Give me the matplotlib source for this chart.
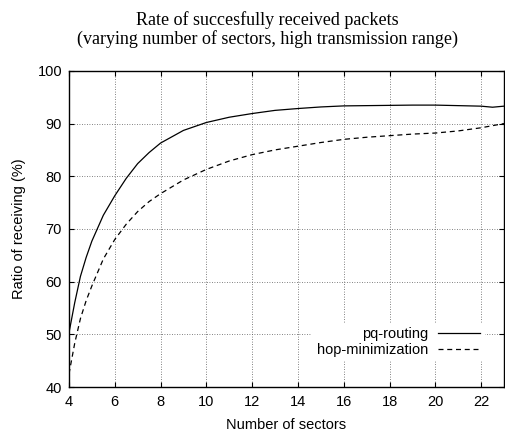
"""
Rate of successfully received packets vs. number of sectors (gnuplot-style recreation).
"""

import matplotlib
matplotlib.use("Agg")
import matplotlib.pyplot as plt

# ---- data -----------------------------------------------------------------
sectors_pq = [4, 4.25, 4.5, 4.75, 5, 5.5, 6, 6.5, 7, 7.5, 8, 9, 10, 11, 12, 13,
              14, 15, 16, 17, 18, 19, 20, 21, 22, 22.5, 23]
pq_routing = [50.3, 56.0, 61.0, 64.6, 67.7, 72.6, 76.3, 79.6, 82.4, 84.5, 86.3,
              88.7, 90.2, 91.2, 91.9, 92.5, 92.85, 93.15, 93.35, 93.4, 93.45,
              93.5, 93.5, 93.4, 93.3, 93.1, 93.3]

sectors_hop = [4, 4.25, 4.5, 4.75, 5, 5.5, 6, 6.5, 7, 7.5, 8, 9, 10, 11, 12, 13,
               14, 15, 16, 17, 18, 19, 20, 21, 22, 23]
hop_minimization = [42.5, 48.3, 53.0, 56.4, 59.2, 64.3, 68.0, 70.9, 73.3, 75.2,
                    76.7, 79.3, 81.3, 82.9, 84.1, 85.0, 85.7, 86.4, 87.0, 87.4,
                    87.7, 88.0, 88.2, 88.6, 89.2, 90.0]

x_ticks = [4, 6, 8, 10, 12, 14, 16, 18, 20, 22]
y_ticks = [40, 50, 60, 70, 80, 90, 100]

TITLE = "Rate of succesfully received packets\n(varying number of sectors, high transmission range)"

plt.rcParams.update({
    "font.family": ["Liberation Sans", "DejaVu Sans"],
    "font.size": 10.5,
    "xtick.direction": "in",
    "ytick.direction": "in",
    "xtick.top": True,
    "ytick.right": True,
    "xtick.major.size": 3.6,
    "ytick.major.size": 3.6,
    "xtick.major.width": 0.8,
    "ytick.major.width": 0.8,
})

fig = plt.figure(figsize=(5.05, 4.32), dpi=100)
ax = fig.add_axes([0.1366, 0.104, 0.8614, 0.732])

ax.plot(sectors_pq, pq_routing, color="black", lw=0.9, label="pq-routing")
ax.plot(sectors_hop, hop_minimization, color="black", lw=0.9,
        linestyle=(0, (4, 3)), label="hop-minimization")

ax.set_xlim(4, 23)
ax.set_ylim(40, 100)
ax.set_xticks(x_ticks)
ax.set_yticks(y_ticks)
ax.tick_params(axis="x", pad=6)
ax.tick_params(axis="y", pad=5)
ax.grid(True, color="0.35", linestyle=(0, (1, 2)), linewidth=0.6)
ax.set_axisbelow(True)
for sp in ax.spines.values():
    sp.set_linewidth(1.0)

ax.set_xlabel("Number of sectors", labelpad=6)
ax.set_ylabel("Ratio of receiving (%)", labelpad=8)

leg = ax.legend(loc="lower right", bbox_to_anchor=(0.956, 0.082),
                markerfirst=False, frameon=True, fancybox=False,
                handlelength=2.9, handletextpad=0.7, labelspacing=0.12,
                borderpad=0.3, borderaxespad=0)
leg.get_frame().set_facecolor("white")
leg.get_frame().set_edgecolor("none")
leg.get_frame().set_alpha(1)
for t in leg.get_texts():
    t.set_ha("right")

fig.text(0.529, 0.975, TITLE, ha="center", va="top", family="Liberation Serif",
         fontsize=13, linespacing=1.1)

fig.savefig("out.png", dpi=100)
